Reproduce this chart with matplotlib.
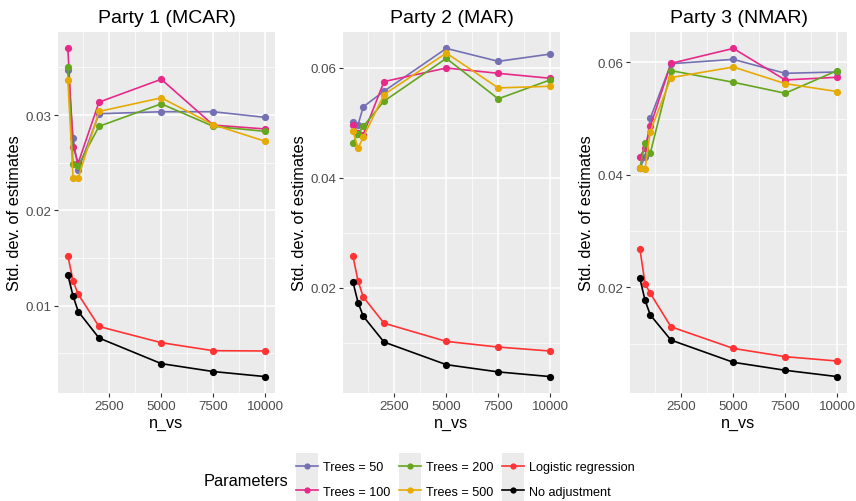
import numpy as np
import matplotlib
matplotlib.use("Agg")
import matplotlib.pyplot as plt
from matplotlib.lines import Line2D
from matplotlib.patches import Rectangle
from matplotlib.legend_handler import HandlerLine2D

plt.rcParams['font.family'] = ['Liberation Sans', 'DejaVu Sans']

n_vs = [500, 750, 1000, 2000, 5000, 7500, 10000]
series_names = ['Trees = 50', 'Trees = 100', 'Trees = 200', 'Trees = 500',
                'Logistic regression', 'No adjustment']
colors = ['#7570B3', '#E7298A', '#66A61E', '#E6AB02', '#FF3333', '#000000']
panel_titles = ['Party 1 (MCAR)', 'Party 2 (MAR)', 'Party 3 (NMAR)']

# values, one list per series per panel
party1 = {
    'Trees = 50': [0.03474, 0.02763, 0.02425, 0.03014, 0.03035, 0.03035, 0.02976],
    'Trees = 100': [0.03700, 0.02666, 0.02498, 0.03136, 0.03376, 0.02895, 0.02854],
    'Trees = 200': [0.03509, 0.02488, 0.02470, 0.02882, 0.03118, 0.02882, 0.02829],
    'Trees = 500': [0.03369, 0.02341, 0.02341, 0.03038, 0.03181, 0.02899, 0.02725],
    'Logistic regression': [0.01523, 0.01258, 0.01118, 0.00780, 0.00610, 0.00526, 0.00523],
    'No adjustment': [0.01321, 0.01101, 0.00937, 0.00659, 0.00390, 0.00307, 0.00254],
}
party2 = {
    'Trees = 50': [0.05023, 0.04968, 0.05294, 0.05578, 0.06356, 0.06121, 0.06253],
    'Trees = 100': [0.04956, 0.04824, 0.04790, 0.05753, 0.06000, 0.05903, 0.05813],
    'Trees = 200': [0.04643, 0.04799, 0.04938, 0.05397, 0.06175, 0.05439, 0.05783],
    'Trees = 500': [0.04860, 0.04540, 0.04739, 0.05517, 0.06271, 0.05638, 0.05668],
    'Logistic regression': [0.02585, 0.02127, 0.01837, 0.01360, 0.01029, 0.00926, 0.00854],
    'No adjustment': [0.02115, 0.01735, 0.01487, 0.01017, 0.00606, 0.00474, 0.00389],
}
party3 = {
    'Trees = 50': [0.04124, 0.04319, 0.05003, 0.05976, 0.06053, 0.05805, 0.05829],
    'Trees = 100': [0.04319, 0.04478, 0.04861, 0.05982, 0.06248, 0.05687, 0.05735],
    'Trees = 200': [0.04124, 0.04572, 0.04383, 0.05853, 0.05646, 0.05451, 0.05853],
    'Trees = 500': [0.04124, 0.04106, 0.04767, 0.05729, 0.05917, 0.05622, 0.05481],
    'Logistic regression': [0.02690, 0.02065, 0.01894, 0.01298, 0.00914, 0.00767, 0.00690],
    'No adjustment': [0.02159, 0.01770, 0.01510, 0.01062, 0.00667, 0.00525, 0.00413],
}
parties = [party1, party2, party3]

W, H = 856, 502
fig = plt.figure(figsize=(W / 100, H / 100), dpi=100)

panel_left = [58, 343, 630]
panel_top, panel_bottom, panel_w = 33, 394, 217

for i, data in enumerate(parties):
    ax = fig.add_axes([panel_left[i] / W, (H - panel_bottom) / H,
                       panel_w / W, (panel_bottom - panel_top) / H])
    ax.set_facecolor('#EBEBEB')
    for name, c in zip(series_names, colors):
        ax.plot(n_vs, data[name], color=c, lw=1.2, marker='o', ms=5.2,
                markeredgewidth=0, zorder=3)

    allv = np.concatenate([np.array(v) for v in data.values()])
    lo, hi = allv.min(), allv.max()
    pad = (hi - lo) * 0.05
    ax.set_ylim(lo - pad, hi + pad)
    xpad = (max(n_vs) - min(n_vs)) * 0.05
    ax.set_xlim(min(n_vs) - xpad, max(n_vs) + xpad)

    ax.set_xticks([2500, 5000, 7500, 10000])
    ax.set_xticks([1250, 3750, 6250, 8750], minor=True)
    if i == 0:
        ax.set_yticks([0.01, 0.02, 0.03])
        ax.set_yticklabels(['0.01', '0.02', '0.03'])
        ax.set_yticks([0.005, 0.015, 0.025, 0.035], minor=True)
    else:
        ax.set_yticks([0.02, 0.04, 0.06])
        ax.set_yticklabels(['0.02', '0.04', '0.06'])
        ax.set_yticks([0.01, 0.03, 0.05], minor=True)

    ax.grid(which='major', color='white', lw=1.1)
    ax.grid(which='minor', color='white', lw=0.5)
    ax.set_axisbelow(True)
    for s in ax.spines.values():
        s.set_visible(False)
    ax.tick_params(which='major', length=3, width=0.8, color='#333333',
                   labelcolor='#4D4D4D', labelsize=9.6, pad=2)
    ax.tick_params(which='minor', length=0)

    ax.set_title(panel_titles[i], fontsize=14, pad=7)
    ax.set_xlabel('n_vs', fontsize=11.6, labelpad=2)
    ax.set_ylabel('Std. dev. of estimates', fontsize=11.8, labelpad=2)


class KeyHandler(HandlerLine2D):
    def create_artists(self, legend, orig_handle, xdescent, ydescent,
                       width, height, fontsize, trans):
        rect = Rectangle((-xdescent, -ydescent - 6), width, height + 12,
                         facecolor='#EBEBEB', edgecolor='none', transform=trans)
        arts = super().create_artists(legend, orig_handle, xdescent, ydescent,
                                      width, height, fontsize, trans)
        return [rect] + arts


handles = [Line2D([], [], color=c, lw=1.2, marker='o', ms=4.5,
                  markeredgewidth=0) for c in colors]
leg = fig.legend(handles, series_names, ncol=3, loc='center left',
                 bbox_to_anchor=(285 / W, (H - 480.5) / H), frameon=False,
                 fontsize=9.1, handlelength=1.72, handletextpad=0.4,
                 columnspacing=0.7, labelspacing=1.0,
                 handler_map={Line2D: KeyHandler(numpoints=1)})
fig.text(204 / W, (H - 482) / H, 'Parameters', fontsize=11.8, va='center')

fig.savefig('out.png', dpi=100)
